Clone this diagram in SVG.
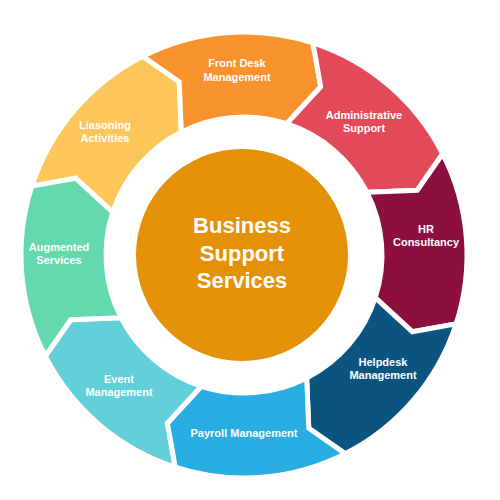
<svg xmlns="http://www.w3.org/2000/svg" width="500" height="500" viewBox="0 0 500 500">
<style>
.seg{stroke:#ffffff;stroke-width:5;stroke-linejoin:miter}
.lbl{font-family:"Liberation Sans",Arial,sans-serif;font-weight:bold;font-size:11px;fill:#ffffff;text-anchor:middle}
.ctr{font-family:"Liberation Sans",Arial,sans-serif;font-weight:bold;font-size:22px;fill:#ffffff;text-anchor:middle}
</style>
<rect width="500" height="500" fill="#ffffff"/>
<g id="connectors"></g>
<g id="liasoning">
<path class="seg" fill="#FDC65B" d="M31.91,186.09 A223,223 0 0 1 142.76,56.30 L179.21,81.72 L181.35,132.04 A138,138 0 0 0 112.75,212.36 L75.65,178.28 Z"/>
<text class="lbl" x="105" y="129">Liasoning</text>
<text class="lbl" x="105" y="142">Activities</text>
</g>
<g id="front-desk">
<path class="seg" fill="#F8922D" d="M142.76,56.30 A223,223 0 0 1 312.91,42.91 L320.72,86.65 L286.64,123.75 A138,138 0 0 0 181.35,132.04 L179.21,81.72 Z"/>
<text class="lbl" x="237" y="67">Front Desk</text>
<text class="lbl" x="237" y="81">Management</text>
</g>
<g id="administrative">
<path class="seg" fill="#E34A59" d="M312.91,42.91 A223,223 0 0 1 442.70,153.76 L417.28,190.21 L366.96,192.35 A138,138 0 0 0 286.64,123.75 L320.72,86.65 Z"/>
<text class="lbl" x="364" y="119">Administrative</text>
<text class="lbl" x="364" y="132">Support</text>
</g>
<g id="hr">
<path class="seg" fill="#8C0F3F" d="M442.70,153.76 A223,223 0 0 1 456.09,323.91 L412.35,331.72 L375.25,297.64 A138,138 0 0 0 366.96,192.35 L417.28,190.21 Z"/>
<text class="lbl" x="426" y="233">HR</text>
<text class="lbl" x="426" y="246">Consultancy</text>
</g>
<g id="helpdesk">
<path class="seg" fill="#0B5480" d="M456.09,323.91 A223,223 0 0 1 345.24,453.70 L308.79,428.28 L306.65,377.96 A138,138 0 0 0 375.25,297.64 L412.35,331.72 Z"/>
<text class="lbl" x="383" y="366">Helpdesk</text>
<text class="lbl" x="383" y="379">Management</text>
</g>
<g id="payroll">
<path class="seg" fill="#2AADE3" d="M345.24,453.70 A223,223 0 0 1 175.09,467.09 L167.28,423.35 L201.36,386.25 A138,138 0 0 0 306.65,377.96 L308.79,428.28 Z"/>
<text class="lbl" x="244" y="437">Payroll Management</text>
</g>
<g id="event">
<path class="seg" fill="#63CFD9" d="M175.09,467.09 A223,223 0 0 1 45.30,356.24 L70.72,319.79 L121.04,317.65 A138,138 0 0 0 201.36,386.25 L167.28,423.35 Z"/>
<text class="lbl" x="119" y="383">Event</text>
<text class="lbl" x="119" y="396">Management</text>
</g>
<g id="augmented">
<path class="seg" fill="#64D9AE" d="M45.30,356.24 A223,223 0 0 1 31.91,186.09 L75.65,178.28 L112.75,212.36 A138,138 0 0 0 121.04,317.65 L70.72,319.79 Z"/>
<text class="lbl" x="59" y="251">Augmented</text>
<text class="lbl" x="59" y="264">Services</text>
</g>
<g id="center">
<circle cx="242" cy="255" r="106" fill="#E59107"/>
<text class="ctr" x="242" y="233">Business</text>
<text class="ctr" x="242" y="261">Support</text>
<text class="ctr" x="242" y="288">Services</text>
</g>
</svg>
